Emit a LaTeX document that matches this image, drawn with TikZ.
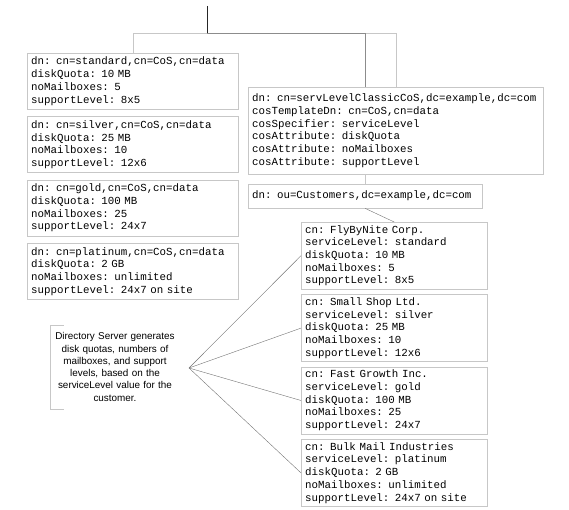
\documentclass[tikz,border=0pt]{standalone}
\usepackage{fontspec}
\setmainfont{Liberation Sans}
\setmonofont{Liberation Mono}
\usetikzlibrary{positioning}

\begin{document}
\begin{tikzpicture}[x=1pt,y=-1pt,
  entry/.style={draw=black!22,fill=white,anchor=north west,align=left,inner xsep=4pt,inner ysep=0pt,font=\ttfamily\fontsize{10.8}{12.7}\selectfont},
  cosbox/.style={entry,text width=203pt,minimum height=56pt},
  userbox/.style={entry,text width=178pt,minimum height=67pt},
  branch/.style={draw=black!22},
  fan/.style={draw=black!55}]
\useasboundingbox (0,0) rectangle (569,510);
% CoS template entries
\node[cosbox] (std) at (27,53) {dn: cn=standard,cn=CoS,cn=data\\diskQuota: 10 MB\\noMailboxes: 5\\supportLevel: 8x5};
\node[cosbox,below=7pt of std] (silver) {dn: cn=silver,cn=CoS,cn=data\\diskQuota: 25 MB\\noMailboxes: 10\\supportLevel: 12x6};
\node[cosbox,below=7pt of silver] (gold) {dn: cn=gold,cn=CoS,cn=data\\diskQuota: 100 MB\\noMailboxes: 25\\supportLevel: 24x7};
\node[cosbox,below=7pt of gold] (plat) {dn: cn=platinum,cn=CoS,cn=data\\diskQuota: 2 GB\\noMailboxes: unlimited\\supportLevel: 24x7 on site};
% CoS definition and customers
\node[entry,text width=287pt,minimum height=87pt] (cos) at (248,87) {dn: cn=servLevelClassicCoS,dc=example,dc=com\\cosTemplateDn: cn=CoS,cn=data\\cosSpecifier: serviceLevel\\cosAttribute: diskQuota\\cosAttribute: noMailboxes\\cosAttribute: supportLevel};
\node[entry,text width=226pt,minimum height=24pt] (cust) at (248,184) {dn: ou=Customers,dc=example,dc=com};
\node[userbox] (fly) at (301,222) {cn: FlyByNite Corp.\\serviceLevel: standard\\diskQuota: 10 MB\\noMailboxes: 5\\supportLevel: 8x5};
\node[userbox,below=5pt of fly] (small) {cn: Small Shop Ltd.\\serviceLevel: silver\\diskQuota: 25 MB\\noMailboxes: 10\\supportLevel: 12x6};
\node[userbox,below=5pt of small] (fast) {cn: Fast Growth Inc.\\serviceLevel: gold\\diskQuota: 100 MB\\noMailboxes: 25\\supportLevel: 24x7};
\node[userbox,below=5pt of fast] (bulk) {cn: Bulk Mail Industries\\serviceLevel: platinum\\diskQuota: 2 GB\\noMailboxes: unlimited\\supportLevel: 24x7 on site};
% tree
\coordinate (top) at (207,6);\coordinate (split) at (207,33);
\draw[black!85] (top)--(split);
\draw[branch] (split)-|(std.north);\draw[branch] (split)-|(cos.north);
\draw[black!45] (split)-|(cos.north-|cust.north);\draw[branch] (cos.south-|cust.north)--(cust.north);
\draw[fan] (cust.south)--(fly.north);
% note
\node[align=center,text width=130pt,inner sep=0pt,minimum height=84pt,font=\fontsize{9.9}{12.3}\selectfont] (note) at (115,367) {Directory Server generates\\disk quotas, numbers of\\mailboxes, and support\\levels, based on the\\serviceLevel value for the\\customer.};
\draw[branch] ([xshift=14pt]note.north west)--(note.north west)--(note.south west)--([xshift=14pt]note.south west);
\coordinate (hub) at (189,368);
\foreach \c in {fly,small,fast,bulk} \draw[fan] (hub)--(\c.west);
\end{tikzpicture}
\end{document}
